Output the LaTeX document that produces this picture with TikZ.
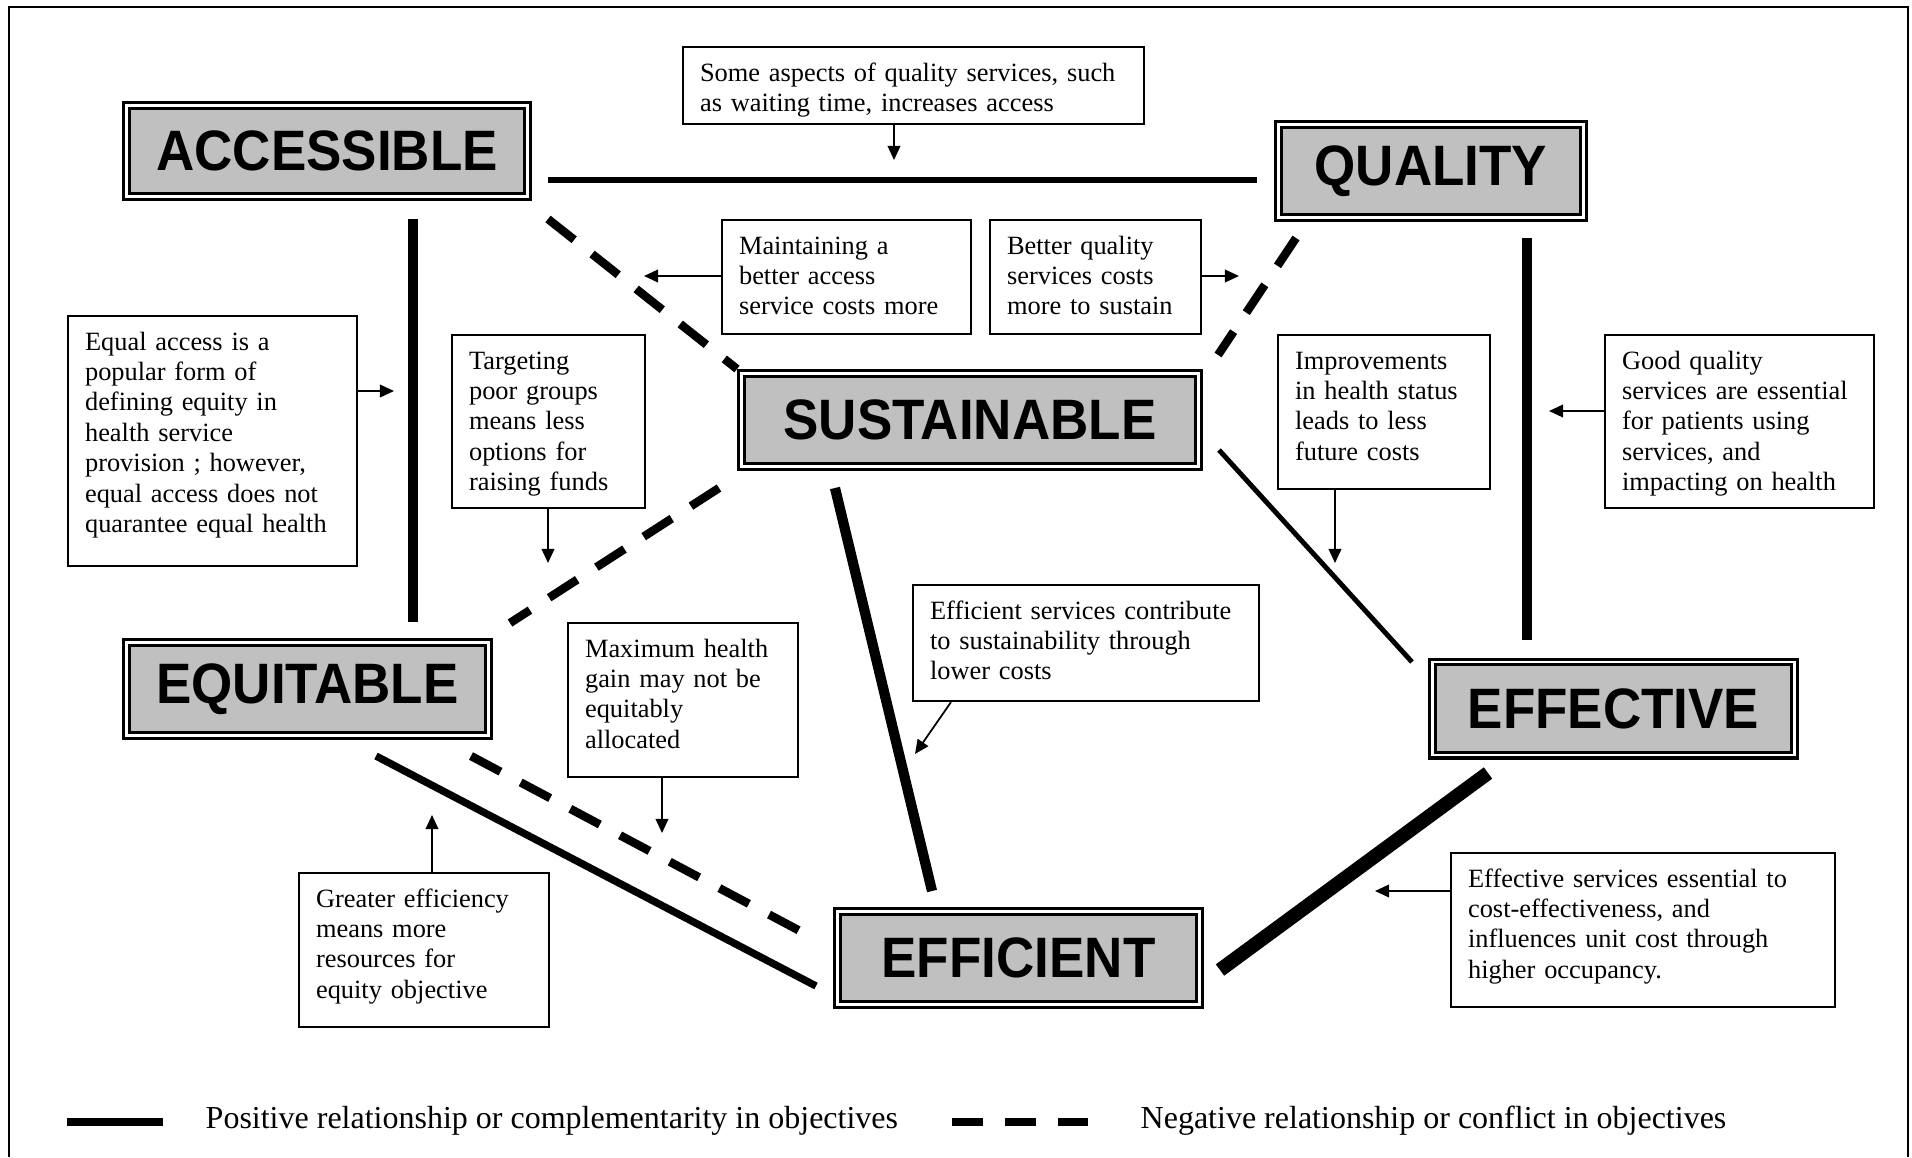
\documentclass[tikz,border=0pt]{standalone}
\usepackage{fontspec}
\setmainfont{Liberation Serif}
\newfontfamily\goalfont[FakeStretch=0.93]{Liberation Sans}
\usepackage{tikz}
\usetikzlibrary{arrows.meta}
\usepackage{xcolor}
\definecolor{goalgray}{RGB}{192, 192, 192}

\begin{document}
\begin{tikzpicture}[x=0.01cm, y=-0.01cm,
		goal/.style={draw, line width=0.9pt, double=white, double distance=0.7pt,
			fill=goalgray, inner sep=0pt, minimum height=26.5pt,
			font=\goalfont\bfseries\fontsize{16.2}{18}\selectfont},
		note/.style={draw, line width=0.6pt, anchor=north west, align=left,
			inner xsep=4.84pt, inner ysep=3.41pt, text height=6.26pt,
			font=\fontsize{7.5}{8.65}\selectfont},
		link/.style={line width=#1},
		clash/.style={line width=2.4pt, dash pattern=on 9.5pt off 6.5pt},
		hint/.style={line width=0.5pt, -{Triangle[length=4pt, width=3.6pt]}}]
	\useasboundingbox (0,0) rectangle (1912,1157);
	% open frame round the page
	\draw[line width=0.6pt] (9,1157) -- (9,7) -- (1908,7) -- (1908,1157);
	% the six objectives
	\node[goal, minimum width=114.1pt, minimum height=25.9pt] (acc) at (327,151) {ACCESSIBLE};
	\node[goal, minimum width=86.8pt] (qual) at (1431,171) {QUALITY};
	\node[goal, minimum width=130pt] (sust) at (970,420) {SUSTAINABLE};
	\node[goal, minimum width=103pt] (equit) at (307.5,689) {EQUITABLE};
	\node[goal, minimum width=103pt] (effect) at (1613.5,708.5) {EFFECTIVE};
	\node[goal, minimum width=103pt] (effic) at (1018.5,958) {EFFICIENT};
	% ends of the relation lines
	\coordinate (aq1) at (548,180);   \coordinate (aq2) at (1257,180);
	\coordinate (ae1) at (413,219);   \coordinate (ae2) at (413,622);
	\coordinate (as1) at (548,219);   \coordinate (as2) at (737,369);
	\coordinate (qs1) at (1296,238);  \coordinate (qs2) at (1218,355);
	\coordinate (qe1) at (1527,238);  \coordinate (qe2) at (1527,640);
	\coordinate (se1) at (719,488);   \coordinate (se2) at (510,623);
	\coordinate (sf1) at (835,488);   \coordinate (sf2) at (932,891);
	\coordinate (sv1) at (1219,450);  \coordinate (sv2) at (1412,662);
	\coordinate (ef1) at (376,756);   \coordinate (ef2) at (816,986);
	\coordinate (ex1) at (471,756);   \coordinate (ex2) at (800,931);
	\coordinate (vf1) at (1488,773);  \coordinate (vf2) at (1220,970);
	% positive relations
	\draw[link=1.9pt] (aq1) -- (aq2);
	\draw[link=2.7pt] (ae1) -- (ae2);
	\draw[link=3.1pt] (qe1) -- (qe2);
	\draw[link=2.9pt] (sf1) -- (sf2);
	\draw[link=1.4pt] (sv1) -- (sv2);
	\draw[link=2.1pt] (ef1) -- (ef2);
	\draw[link=4pt] (vf1) -- (vf2);
	% conflicts
	\draw[clash] (as1) -- (as2);
	\draw[clash] (qs1) -- (qs2);
	\draw[clash] (se1) -- (se2);
	\draw[clash] (ex1) -- (ex2);
	% notes on the relations
	\node[note, text width=121.5pt, text depth=8.8pt] (waitnote) at (682,46)
	{Some aspects of quality services, such\\as waiting time, increases access};
	\node[note, text width=61.2pt, text depth=19.3pt] (accessnote) at (721,219)
	{Maintaining a\\better access\\service costs more};
	\node[note, text width=50.4pt, text depth=19.3pt] (costnote) at (989,219)
	{Better quality\\services costs\\more to sustain};
	\node[note, text width=72.5pt, text depth=58pt] (equalnote) at (67,315)
	{Equal access is a\\popular form of\\defining equity in\\health service\\provision ; however,\\equal access does not\\quarantee equal health};
	\node[note, text width=45.2pt, text depth=36.1pt] (targetnote) at (451,334)
	{Targeting\\poor groups\\means less\\options for\\raising funds};
	\node[note, text width=50.6pt, text depth=30.7pt] (healthnote) at (1277,334)
	{Improvements\\in health status\\leads to less\\future costs};
	\node[note, text width=66.9pt, text depth=36.1pt] (patientnote) at (1604,334)
	{Good quality\\services are essential\\for patients using\\services, and\\impacting on health};
	\node[note, text width=88.8pt, text depth=19.9pt] (lowcostnote) at (912,584)
	{Efficient services contribute\\to sustainability through\\lower costs};
	\node[note, text width=55.8pt, text depth=30.7pt] (gainnote) at (567,622)
	{Maximum health\\gain may not be\\equitably\\allocated};
	\node[note, text width=61.5pt, text depth=30.7pt] (resourcenote) at (298,872)
	{Greater efficiency\\means more\\resources for\\equity objective};
	\node[note, text width=99.6pt, text depth=30.7pt] (occupancynote) at (1450,852)
	{Effective services essential to\\cost-effectiveness, and\\influences unit cost through\\higher occupancy.};
	% arrows from the notes
	\coordinate (tA) at (894,160);
	\coordinate (tB) at (644,276);
	\coordinate (tC) at (1239,276);
	\coordinate (tD) at (394,391);
	\coordinate (tE) at (548,563);
	\coordinate (tF) at (1335,563);
	\coordinate (tG) at (1549,411);
	\coordinate (tH) at (915,754);
	\coordinate (tI) at (662,833);
	\coordinate (tJ) at (432,815);
	\coordinate (tK) at (1375,891);
	\draw[hint] (waitnote.south -| tA) -- (tA);
	\draw[hint] (accessnote.west |- tB) -- (tB);
	\draw[hint] (costnote.east |- tC) -- (tC);
	\draw[hint] (equalnote.east |- tD) -- (tD);
	\draw[hint] (targetnote.south -| tE) -- (tE);
	\draw[hint] (healthnote.south -| tF) -- (tF);
	\draw[hint] (patientnote.west |- tG) -- (tG);
	\draw[hint] ([shift={(39,0)}]lowcostnote.south west) -- (tH);
	\draw[hint] (gainnote.south -| tI) -- (tI);
	\draw[hint] (resourcenote.north -| tJ) -- (tJ);
	\draw[hint] (occupancynote.west |- tK) -- (tK);
	% key
	\draw[line width=2.1pt] (67,1122) -- (163,1122);
	\draw[line width=2.1pt, dash pattern=on 8.8pt off 6.2pt] (952,1122) -- (1095,1122);
	\node[anchor=base west, inner sep=0pt, font=\fontsize{9.1}{11}\selectfont] (poskey) at (205,1128)
	{Positive relationship or complementarity in objectives};
	\node[anchor=base west, inner sep=0pt, font=\fontsize{9.1}{11}\selectfont] (negkey) at (1140,1128)
	{Negative relationship or conflict in objectives};
\end{tikzpicture}
\end{document}
